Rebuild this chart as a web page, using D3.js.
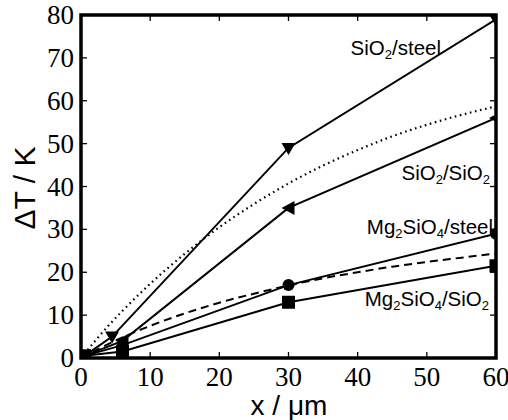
<!DOCTYPE html>
<html><head><meta charset="utf-8">
<script src="https://cdn.jsdelivr.net/npm/d3@7"></script>
<style>body{margin:0;background:#fff}</style>
</head><body><svg id="c" width="508" height="420"></svg>
<script>
// Measured series
const sio2SteelX = [0.5, 4.5, 30, 60];
const sio2SteelY = [0.5, 5, 49, 79];
const sio2Sio2X = [0.5, 6, 30, 60];
const sio2Sio2Y = [0.5, 4, 35, 56];
const mgSteelX = [0.5, 6, 30, 60];
const mgSteelY = [0.5, 3, 17, 29];
const mgSio2X = [0.5, 6, 30, 60];
const mgSio2Y = [0.5, 1.5, 13, 21.5];
const curveX = [0, 2, 4, 6, 10, 15, 20, 25, 30, 35, 40, 45, 50, 55, 60];
const dottedY = [0, 3.9, 7.6, 11, 17.3, 24.3, 30.5, 35.9, 40.7, 44.9, 48.5, 51.7, 54.4, 56.7, 58.7];
const dashedY = [0, 1.7, 3.3, 4.8, 7.5, 10.4, 12.9, 15.0, 16.9, 18.6, 20.0, 21.3, 22.4, 23.4, 24.4];
const xTicks = [0, 10, 20, 30, 40, 50, 60];
const yTicks = [0, 10, 20, 30, 40, 50, 60, 70, 80];

const SERIF = '"Liberation Serif"';
const SANS = '"Liberation Sans"';

const svg = d3.select("#c");
const L = 81, R = 496, T = 15, B = 358;
const x = d3.scaleLinear().domain([0, 60]).range([L, R]);
const y = d3.scaleLinear().domain([0, 80]).range([B, T]);

svg.append("defs").append("clipPath").attr("id", "clip")
  .append("rect").attr("x", L).attr("y", T).attr("width", R - L).attr("height", B - T);

const plot = svg.append("g").attr("clip-path", "url(#clip)");
const zip = (xs, ys) => xs.map((v, i) => [v, ys[i]]);
const line = d3.line().x(d => x(d[0])).y(d => y(d[1]));
const smooth = d3.line().x(d => x(d[0])).y(d => y(d[1])).curve(d3.curveMonotoneX);

// model curves
plot.append("path").datum(zip(curveX, dottedY)).attr("d", smooth)
  .attr("fill", "none").attr("stroke", "#000").attr("stroke-width", 2.2)
  .attr("stroke-dasharray", "1.6,3.6").attr("stroke-linecap", "butt");
plot.append("path").datum(zip(curveX, dashedY)).attr("d", smooth)
  .attr("fill", "none").attr("stroke", "#000").attr("stroke-width", 2)
  .attr("stroke-dasharray", "8,5");

const series = [
  {xs: sio2SteelX, ys: sio2SteelY, sym: "down"},
  {xs: sio2Sio2X, ys: sio2Sio2Y, sym: "left"},
  {xs: mgSteelX, ys: mgSteelY, sym: "circle"},
  {xs: mgSio2X, ys: mgSio2Y, sym: "square"}
];
series.forEach(s => {
  const pts = zip(s.xs, s.ys);
  plot.append("path").datum(pts).attr("d", line)
    .attr("fill", "none").attr("stroke", "#000").attr("stroke-width", 2);
  pts.forEach(p => {
    const cx = x(p[0]), cy = y(p[1]);
    if (s.sym === "circle") {
      plot.append("circle").attr("cx", cx).attr("cy", cy).attr("r", 6);
    } else if (s.sym === "square") {
      plot.append("rect").attr("x", cx - 6.5).attr("y", cy - 6.5).attr("width", 13).attr("height", 13);
    } else if (s.sym === "down") {
      plot.append("path").attr("d", `M${cx-7},${cy-5}L${cx+7},${cy-5}L${cx},${cy+7}Z`);
    } else {
      plot.append("path").attr("d", `M${cx-7},${cy}L${cx+6},${cy-7}L${cx+6},${cy+7}Z`);
    }
  });
});

// ticks (inward, all sides)
const tk = svg.append("g").attr("stroke", "#000").attr("stroke-width", 1.3);
xTicks.forEach(t => {
  tk.append("line").attr("x1", x(t)).attr("x2", x(t)).attr("y1", B).attr("y2", B - 6);
  tk.append("line").attr("x1", x(t)).attr("x2", x(t)).attr("y1", T).attr("y2", T + 6);
});
yTicks.forEach(t => {
  tk.append("line").attr("x1", L).attr("x2", L + 6).attr("y1", y(t)).attr("y2", y(t));
  tk.append("line").attr("x1", R).attr("x2", R - 6).attr("y1", y(t)).attr("y2", y(t));
});

// frame
svg.append("rect").attr("x", L).attr("y", T).attr("width", R - L).attr("height", B - T)
  .attr("fill", "none").attr("stroke", "#000").attr("stroke-width", 3.5);

// tick labels
xTicks.forEach(d => {
  svg.append("text").style("font-family", SERIF).style("font-size", "27px")
    .attr("x", x(d)).attr("y", 386).attr("text-anchor", "middle").text(String(d));
});
yTicks.forEach(d => {
  svg.append("text").style("font-family", SERIF).style("font-size", "27px")
    .attr("x", 74).attr("y", y(d) + 9).attr("text-anchor", "end").text(String(d));
});

// axis titles
svg.append("text").style("font-family", SANS).style("font-size", "28px")
  .attr("x", 289).attr("y", 415).attr("text-anchor", "middle").text("x / μm");
svg.append("text").style("font-family", SANS).style("font-size", "30px")
  .attr("transform", "translate(35,188) rotate(-90)").attr("text-anchor", "middle").text("ΔT / K");

// series labels
function label(parts, xp, yp) {
  const t = svg.append("text").style("font-family", SANS).style("font-size", "20.5px")
    .attr("x", xp).attr("y", yp).attr("text-anchor", "end");
  parts.forEach(p => {
    if (p.sub) t.append("tspan").style("font-size", "13px").attr("dy", 4).text(p.t);
    else t.append("tspan").attr("dy", p.after ? -4 : 0).text(p.t);
  });
}
label([{t: "SiO"}, {t: "2", sub: true}, {t: "/steel", after: true}], 441, 55);
label([{t: "SiO"}, {t: "2", sub: true}, {t: "/SiO", after: true}, {t: "2", sub: true}], 490, 180);
label([{t: "Mg"}, {t: "2", sub: true}, {t: "SiO", after: true}, {t: "4", sub: true}, {t: "/steel", after: true}], 493, 234);
label([{t: "Mg"}, {t: "2", sub: true}, {t: "SiO", after: true}, {t: "4", sub: true}, {t: "/SiO", after: true}, {t: "2", sub: true}], 489, 306);
</script></body></html>
